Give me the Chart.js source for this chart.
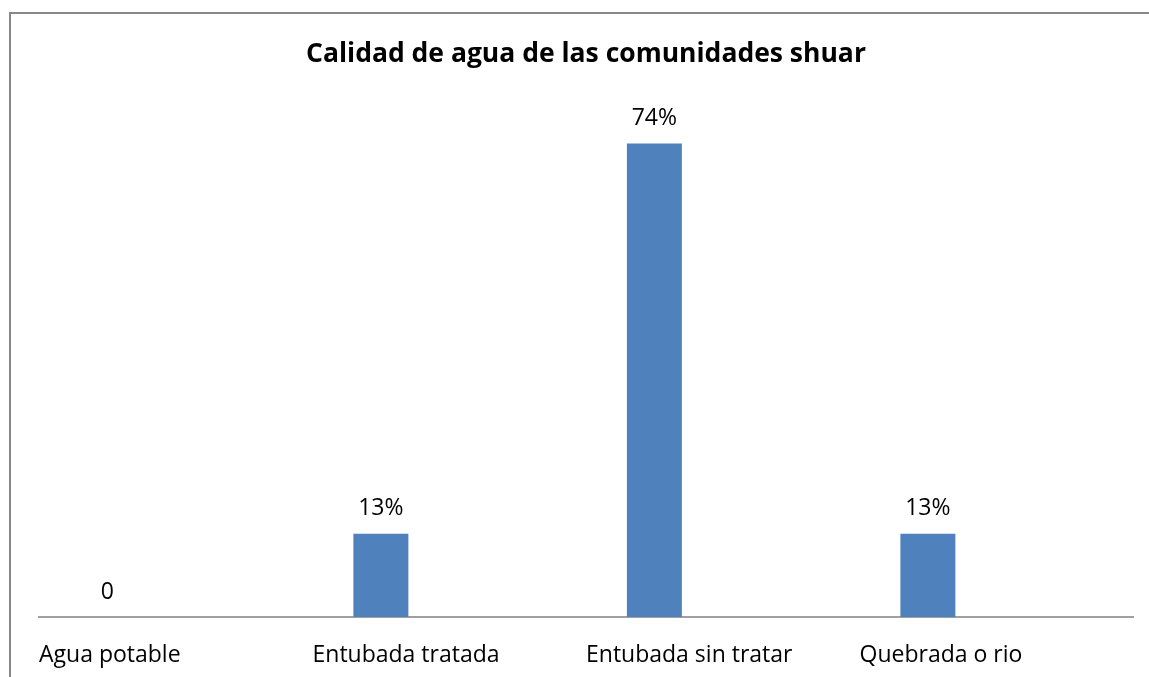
<!DOCTYPE html>
<html>
<head>
<meta charset="utf-8">
<script src="https://cdn.jsdelivr.net/npm/chart.js@4/dist/chart.umd.min.js"></script>
<style>
html,body{margin:0;padding:0;background:#fff;}
#wrap{width:1149px;height:677px;position:relative;}
</style>
</head>
<body>
<div id="wrap"><canvas id="c" width="1149" height="677"></canvas></div>
<script>
const categories = ["Agua potable", "Entubada tratada", "Entubada sin tratar", "Quebrada o rio"];
const values = [0, 13, 74, 13];
const valueLabels = ["0", "13%", "74%", "13%"];
const chartTitle = "Calidad de agua de las comunidades shuar";

const FONT = "'Open Sans', sans-serif";

const frame = {
  id: 'frame',
  beforeDraw(chart) {
    const ctx = chart.ctx;
    ctx.save();
    ctx.fillStyle = '#ffffff';
    ctx.fillRect(0, 0, chart.width, chart.height);
    ctx.strokeStyle = '#878787';
    ctx.lineWidth = 2;
    ctx.strokeRect(10, 13, 3000, 3000);
    ctx.restore();
  }
};

const valueLabelPlugin = {
  id: 'valueLabels',
  afterDatasetsDraw(chart) {
    const ctx = chart.ctx;
    const meta = chart.getDatasetMeta(0);
    ctx.save();
    ctx.fillStyle = '#000000';
    ctx.font = "23px " + FONT;
    ctx.textAlign = 'center';
    ctx.textBaseline = 'middle';
    meta.data.forEach((bar, i) => {
      ctx.fillText(valueLabels[i], bar.x, bar.y - 25);
    });
    ctx.restore();
  }
};

new Chart(document.getElementById('c'), {
  type: 'bar',
  data: {
    labels: categories,
    datasets: [
      { data: values, backgroundColor: '#4F81BD', categoryPercentage: 1.0, barPercentage: 0.402 },
      { data: categories.map(() => null), backgroundColor: '#C0504D', categoryPercentage: 1.0, barPercentage: 0.402 }
    ]
  },
  options: {
    responsive: false,
    animation: false,
    layout: { padding: { left: 39, right: 16, top: 0, bottom: 0 } },
    plugins: {
      legend: { display: false },
      tooltip: { enabled: false },
      title: {
        display: true,
        text: chartTitle,
        color: '#000000',
        font: { family: FONT, size: 26.5, weight: 'bold', lineHeight: 1.2 },
        padding: { top: 38.5, bottom: 34.7 }
      }
    },
    scales: {
      x: {
        grid: { display: false, drawTicks: false },
        border: { display: true, color: '#a0a0a0', width: 2 },
        ticks: {
          align: 'start',
          labelOffset: -136.75,
          padding: 24.5,
          color: '#000000',
          maxRotation: 0,
          autoSkip: false,
          font: { family: FONT, size: 23 }
        },
        afterFit(scale) {
          scale.height = 60;
          scale.paddingLeft = 0;
          scale.paddingRight = 0;
        }
      },
      y: {
        display: false,
        min: 0,
        max: 80
      }
    }
  },
  plugins: [frame, valueLabelPlugin]
});
</script>
</body>
</html>
